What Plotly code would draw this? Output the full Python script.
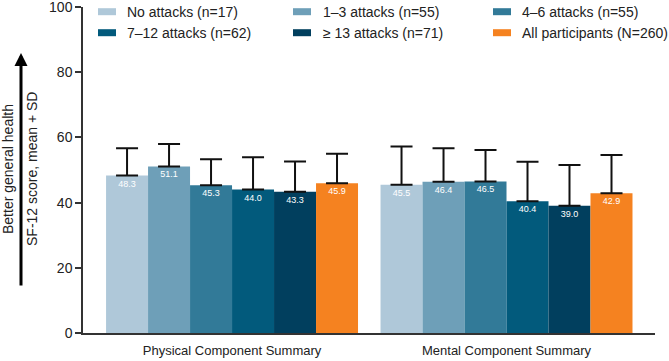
import plotly.graph_objects as go

categories = ["Physical Component Summary", "Mental Component Summary"]
series_names = ["No attacks (n=17)", "1–3 attacks (n=55)", "4–6 attacks (n=55)",
                "7–12 attacks (n=62)", "≥ 13 attacks (n=71)", "All participants (N=260)"]
means = [
    [48.3, 45.5],
    [51.1, 46.4],
    [45.3, 46.5],
    [44.0, 40.4],
    [43.3, 39.0],
    [45.9, 42.9],
]
sds = [
    [8.4, 11.7],
    [6.9, 10.3],
    [8.0, 9.6],
    [9.9, 12.1],
    [9.3, 12.5],
    [9.1, 11.7],
]
colors = ["#AFC8D9", "#6E9FB8", "#327A98", "#025A7C", "#013F5E", "#F58220"]
y_ticks = [0, 20, 40, 60, 80, 100]

W, H = 669, 361
ML, MR, MT, MB = 83, 14, 7, 28
PW, PH = W - ML - MR, H - MT - MB

def px(x):
    return (x - ML) / PW

def py(y):
    return (H - MB - y) / PH

FONT = "Liberation Sans, Arial, sans-serif"
TXT = "#222222"

fig = go.Figure()
for name, m, s, c in zip(series_names, means, sds, colors):
    fig.add_trace(go.Bar(
        x=categories, y=m, name=name, marker=dict(color=c, line=dict(width=0)),
        error_y=dict(type="data", array=s, arrayminus=[0] * len(s), symmetric=False,
                     color="#111111", thickness=2, width=11),
        text=[f"{v:.1f}" for v in m], textposition="inside", insidetextanchor="end",
        textfont=dict(size=9, color="white", family=FONT), textangle=0,
        showlegend=False,
    ))

shapes = []
annotations = []
# manual legend
legend_cols = [(98, 125), (293, 321), (493, 520)]
legend_rows = [11.7, 32.7]
for i, (name, c) in enumerate(zip(series_names, colors)):
    r, col = divmod(i, 3)
    sx, tx = legend_cols[col]
    yc = legend_rows[r]
    shapes.append(dict(type="rect", xref="paper", yref="paper",
                       x0=px(sx), x1=px(sx + 18), y0=py(yc + 3.5), y1=py(yc - 3.5),
                       fillcolor=c, line=dict(width=0)))
    annotations.append(dict(text=name, xref="paper", yref="paper", x=px(tx), y=py(yc),
                            xanchor="left", yanchor="middle", showarrow=False,
                            font=dict(size=14, color=TXT, family=FONT)))

# y-axis title lines and arrow
annotations.append(dict(text="Better general health", xref="paper", yref="paper",
                        x=px(8), y=py(169), textangle=-90, showarrow=False,
                        xanchor="center", yanchor="middle",
                        font=dict(size=14, color=TXT, family=FONT)))
annotations.append(dict(text="SF-12 score, mean + SD", xref="paper", yref="paper",
                        x=px(32), y=py(169), textangle=-90, showarrow=False,
                        xanchor="center", yanchor="middle",
                        font=dict(size=14, color=TXT, family=FONT)))
annotations.append(dict(text="", xref="paper", yref="paper", x=px(21), y=py(53),
                        ax=0, ay=234, axref="pixel", ayref="pixel", showarrow=True,
                        arrowhead=2, arrowsize=0.87, arrowwidth=3, arrowcolor="#000000"))

fig.update_layout(
    width=W, height=H,
    margin=dict(l=ML, r=MR, t=MT, b=MB, autoexpand=False),
    paper_bgcolor="white", plot_bgcolor="white",
    barmode="group", bargap=0.082, bargroupgap=0,
    font=dict(family=FONT, size=13, color=TXT),
    shapes=shapes, annotations=annotations,
    xaxis=dict(range=[-0.543, 1.541], showline=True, linecolor="#333333", linewidth=1.5,
               ticks="", showgrid=False, tickfont=dict(size=13), automargin=False,
               ticklabelstandoff=5),
    yaxis=dict(range=[0, 100], tickvals=y_ticks, showline=True, linecolor="#333333",
               linewidth=1.5, ticks="outside", ticklen=6, tickwidth=1.5, tickcolor="#333333",
               showgrid=False, zeroline=False, tickfont=dict(size=14),
               ticklabeloverflow="allow", automargin=False),
)

fig.write_html("out.html")
